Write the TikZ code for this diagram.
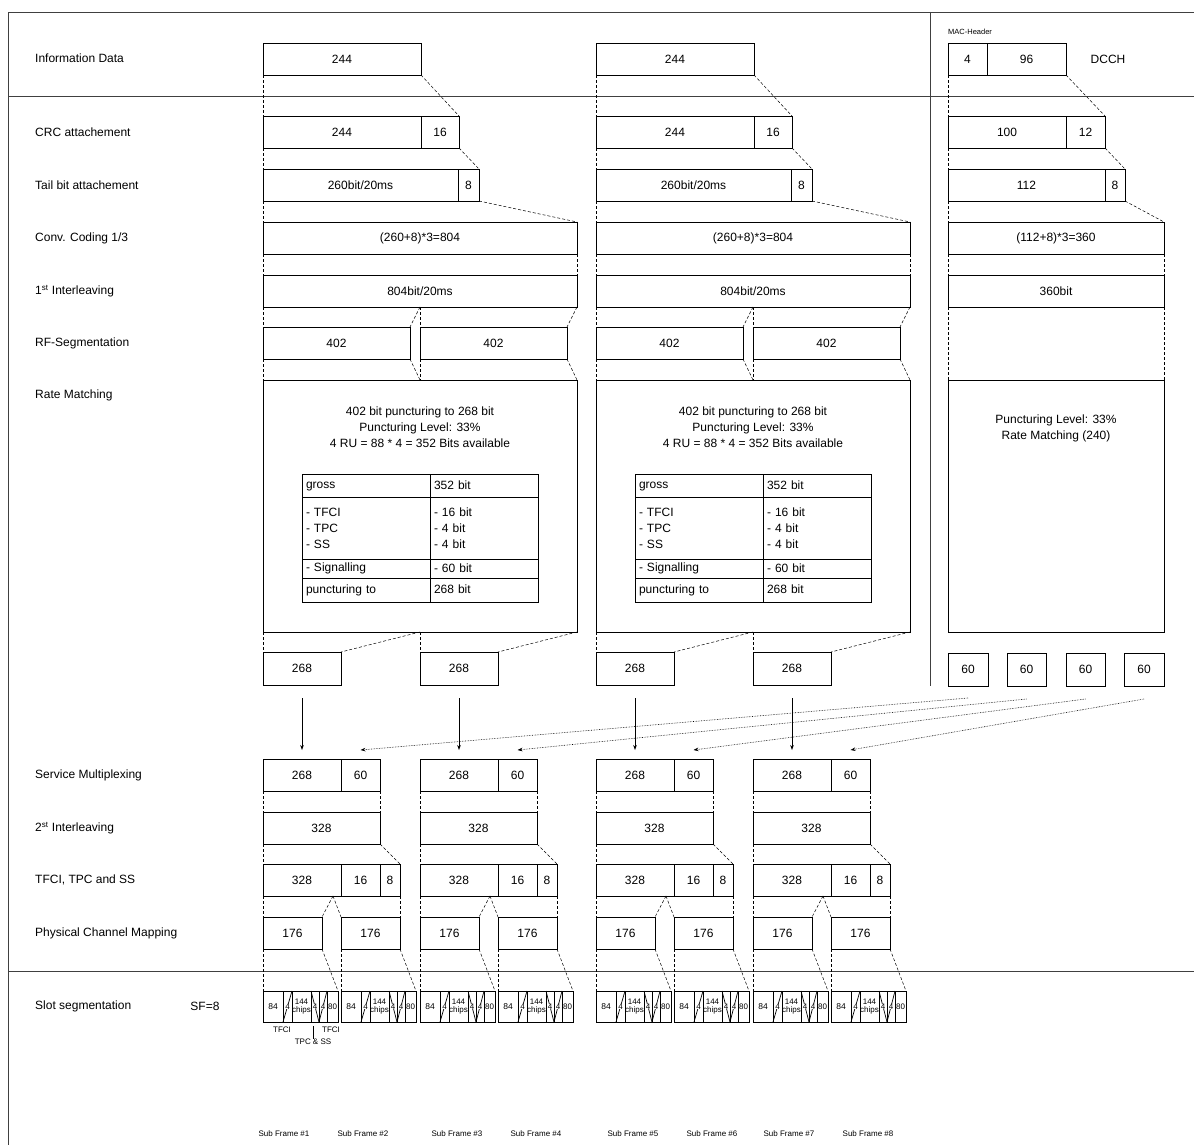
\documentclass[tikz,border=0pt]{standalone}
\usepackage{fontspec}
\setmainfont{Liberation Sans}
\usetikzlibrary{arrows.meta,calc}
\tikzset{
 cell/.style={draw, line width=0.9pt, inner sep=0pt, outer sep=0pt, align=center, font=\fontsize{12}{16}\selectfont},
 tcell/.style={cell, align=left},
 scell/.style={draw, line width=0.8pt, inner sep=0pt, outer sep=0pt, align=center, font=\fontsize{8}{7.5}\selectfont},
 conn/.style={line width=0.5pt, dash pattern=on 3pt off 2pt},
 frame/.style={line width=0.9pt, draw=black!75},
 lbl/.style={anchor=west, inner sep=0pt, font=\fontsize{12}{14}\selectfont},
 txt/.style={inner sep=0pt, align=center, font=\fontsize{12}{16}\selectfont},
 small/.style={inner sep=0pt, align=center, font=\fontsize{8}{9}\selectfont},
 four/.style={fill=white, inner sep=0.2pt, font=\fontsize{8}{8}\selectfont},
 arr/.style={line width=0.6pt, -{Stealth[length=5pt,width=3.6pt]}},
 darr/.style={line width=0.6pt, densely dotted, -{Stealth[length=5pt,width=3.6pt]}},
}
% box from (x1,y1) to (x2,y2), y counted downwards
\newcommand\bx[7][cell]{\node[#1, minimum width={((#5)-(#3))*1pt}, minimum height={((#6)-(#4))*1pt}] (#2) at ({((#3)+(#5))/2},{((#4)+(#6))/2}) {#7};}
\newcommand\tc[7]{\node[tcell, text width=#6, minimum width={((#4)-(#2))*1pt}, minimum height={((#5)-(#3))*1pt}] (#1) at ({((#2)+(#4))/2},{((#3)+(#5))/2}) {#7};}
\newcommand\onel[1]{\rule[-2pt]{0pt}{11pt}#1}
% one slot of 75 units starting at x = #2
\newcommand\slotbox[2]{%
 \bx[scell]{#1a}{#2}{991}{#2+20}{1022}{\fontsize{8.5}{8}\selectfont 84}
 \bx[scell]{#1b}{#2+20}{991}{#2+29}{1022}{}
 \bx[scell]{#1c}{#2+29}{991}{#2+48}{1022}{144\\chips}
 \bx[scell]{#1d}{#2+48}{991}{#2+56}{1022}{}
 \bx[scell]{#1e}{#2+56}{991}{#2+64}{1022}{}
 \bx[scell]{#1f}{#2+64}{991}{#2+75}{1022}{80}
 \draw[line width=0.7pt] (#1b.north east) -- (#1b.south west);
 \draw[line width=0.7pt] (#1d.north west) -- (#1d.south east);
 \draw[line width=0.7pt] (#1e.north east) -- (#1e.south west);
 \node[four] (#1bt) at (#1b) {4};
 \node[four] (#1dt) at (#1d) {4};
 \node[four] (#1et) at (#1e) {4};
}
% DTCH column (drawn at column 1 coordinates)
\newcommand\dtchcol[1]{%
 \bx{#1i}{263}{43}{421}{75}{244}
 \bx{#1c1}{263}{116}{421}{148}{244}
 \bx{#1c2}{421}{116}{459}{148}{16}
 \bx{#1t1}{263}{169}{458}{201}{260bit/20ms}
 \bx{#1t2}{458}{169}{479}{201}{8}
 \bx{#1cv}{263}{222}{577}{254}{(260+8)*3=804}
 \bx{#1il}{263}{275}{577}{307}{804bit/20ms}
 \bx{#1r1}{263}{327}{410}{359}{402}
 \bx{#1r2}{420}{327}{567}{359}{402}
 \bx{#1rm}{263}{380}{577}{632}{}
 \bx{#1p1}{263}{652}{341}{685}{268}
 \bx{#1p2}{420}{652}{498}{685}{268}
 \node[txt] (#1rmt) at (420,427) {402 bit puncturing to 268 bit\\Puncturing Level: 33\%\\4 RU = 88 * 4 = 352 Bits available};
 \tc{#1ta1}{302}{474}{430}{497}{120pt}{\onel{gross}}
 \tc{#1ta2}{430}{474}{538}{497}{100pt}{\onel{352 bit}}
 \tc{#1tb1}{302}{497}{430}{559}{120pt}{- TFCI\\- TPC\\- SS}
 \tc{#1tb2}{430}{497}{538}{559}{100pt}{- 16 bit\\- 4 bit\\- 4 bit}
 \tc{#1tc1}{302}{559}{430}{578}{120pt}{\onel{- Signalling}}
 \tc{#1tc2}{430}{559}{538}{578}{100pt}{\onel{- 60 bit}}
 \tc{#1td1}{302}{578}{430}{602}{120pt}{\onel{puncturing to}}
 \tc{#1td2}{430}{578}{538}{602}{100pt}{\onel{268 bit}}
 \draw[conn] (#1i.south west) -- (#1c1.north west);
 \draw[conn] (#1i.south east) -- (#1c2.north east);
 \draw[conn] (#1c1.south west) -- (#1t1.north west);
 \draw[conn] (#1c2.south east) -- (#1t2.north east);
 \draw[conn] (#1t1.south west) -- (#1cv.north west);
 \draw[conn] (#1t2.south east) -- (#1cv.north east);
 \draw[conn] (#1cv.south west) -- (#1il.north west);
 \draw[conn] (#1cv.south east) -- (#1il.north east);
 \draw[conn] (#1il.south west) -- (#1r1.north west);
 \draw[conn] (#1il.south) -- (#1r1.north east);
 \draw[conn] (#1il.south) -- (#1r2.north west);
 \draw[conn] (#1il.south east) -- (#1r2.north east);
 \draw[conn] (#1r1.south west) -- (#1rm.north west);
 \draw[conn] (#1r1.south east) -- (#1rm.north);
 \draw[conn] (#1r2.south west) -- (#1rm.north);
 \draw[conn] (#1r2.south east) -- (#1rm.north east);
 \draw[conn] (#1rm.south west) -- (#1p1.north west);
 \draw[conn] (#1rm.south) -- (#1p1.north east);
 \draw[conn] (#1rm.south) -- (#1p2.north west);
 \draw[conn] (#1rm.south east) -- (#1p2.north east);
}
% lower group (drawn at group 1 coordinates)
\newcommand\grp[1]{%
 \bx{#1m1}{263}{759}{341}{791}{268}
 \bx{#1m2}{341}{759}{380}{791}{60}
 \bx{#1n}{263}{812}{380}{844}{328}
 \bx{#1f1}{263}{864}{341}{896}{328}
 \bx{#1f2}{341}{864}{380}{896}{16}
 \bx{#1f3}{380}{864}{400}{896}{8}
 \bx{#1q1}{263}{917}{322}{949}{176}
 \bx{#1q2}{341}{917}{400}{949}{176}
 \slotbox{#1s}{263}
 \slotbox{#1t}{341}
 \coordinate (#1ap) at (333,896);
 \draw[conn] (#1m1.south west) -- (#1n.north west);
 \draw[conn] (#1m2.south east) -- (#1n.north east);
 \draw[conn] (#1n.south west) -- (#1f1.north west);
 \draw[conn] (#1n.south east) -- (#1f3.north east);
 \draw[conn] (#1f1.south west) -- (#1q1.north west);
 \draw[conn] (#1ap) -- (#1q1.north east);
 \draw[conn] (#1ap) -- (#1q2.north west);
 \draw[conn] (#1f3.south east) -- (#1q2.north east);
 \draw[conn] (#1q1.south west) -- (#1sa.north west);
 \draw[conn] (#1q1.south east) -- (#1sf.north east);
 \draw[conn] (#1q2.south west) -- (#1ta.north west);
 \draw[conn] (#1q2.south east) -- (#1tf.north east);
}
\begin{document}
\begin{tikzpicture}[x=1pt,y=-1pt]
\useasboundingbox (0,0) rectangle (1194,1145);
% frame
\draw[frame] (1194,12) -- (8,12) -- (8,1145);
\draw[frame] (8,96) -- (1194,96);
\draw[frame] (8,971) -- (1194,971);
\draw[frame] (930,12) -- (930,686);
% row labels
\node[lbl] (l1) at (35,58) {Information Data};
\node[lbl] (l2) at (35,132) {CRC attachement};
\node[lbl] (l3) at (35,185) {Tail bit attachement};
\node[lbl] (l4) at (35,238) {Conv. Coding 1/3};
\node[lbl] (l5) at (35,291) {1\textsuperscript{st} Interleaving};
\node[lbl] (l6) at (35,343) {RF-Segmentation};
\node[lbl] (l7) at (35,395) {Rate Matching};
\node[lbl] (l8) at (35,775) {Service Multiplexing};
\node[lbl] (l9) at (35,828) {2\textsuperscript{st} Interleaving};
\node[lbl] (l10) at (35,880) {TFCI, TPC and SS};
\node[lbl] (l11) at (35,933) {Physical Channel Mapping};
\node[lbl] (l12) at (35,1006) {Slot segmentation};
\node[txt] (sf8) at (205,1006) {SF=8};
% DTCH columns
\dtchcol{A}
\begin{scope}[xshift=333pt]\dtchcol{B}\end{scope}
% DCCH column
\node[small, anchor=west, font=\fontsize{7.5}{8}\selectfont] (mach) at (948,32) {MAC-Header};
\bx{dm1}{948}{43}{987}{75}{4}
\bx{dm2}{987}{43}{1066}{75}{96}
\node[txt] (dcch) at (1108,59) {DCCH};
\bx{dc1}{948}{116}{1066}{148}{100}
\bx{dc2}{1066}{116}{1105}{148}{12}
\bx{dt1}{948}{169}{1105}{201}{112}
\bx{dt2}{1105}{169}{1125}{201}{8}
\bx{dcv}{948}{222}{1164}{254}{(112+8)*3=360}
\bx{dil}{948}{275}{1164}{307}{360bit}
\bx{drm}{948}{380}{1164}{632}{}
\node[txt] (drmt) at (1056,428) {Puncturing Level: 33\%\\Rate Matching (240)};
\bx{s1}{948}{653}{988}{686}{60}
\bx{s2}{1007}{653}{1046}{686}{60}
\bx{s3}{1066}{653}{1105}{686}{60}
\bx{s4}{1124}{653}{1164}{686}{60}
\draw[conn] (dm1.south west) -- (dc1.north west);
\draw[conn] (dm2.south east) -- (dc2.north east);
\draw[conn] (dc1.south west) -- (dt1.north west);
\draw[conn] (dc2.south east) -- (dt2.north east);
\draw[conn] (dt1.south west) -- (dcv.north west);
\draw[conn] (dt2.south east) -- (dcv.north east);
\draw[conn] (dcv.south west) -- (dil.north west);
\draw[conn] (dcv.south east) -- (dil.north east);
\draw[conn] (dil.south west) -- (drm.north west);
\draw[conn] (dil.south east) -- (drm.north east);
% lower groups
\grp{G}
\begin{scope}[xshift=157pt]\grp{H}\end{scope}
\begin{scope}[xshift=333pt]\grp{J}\end{scope}
\begin{scope}[xshift=490pt]\grp{K}\end{scope}
% arrows
\draw[arr, shorten <=13pt, shorten >=9pt] (Ap1.south) -- (Gm1.north);
\draw[arr, shorten <=13pt, shorten >=9pt] (Ap2.south) -- (Hm1.north);
\draw[arr, shorten <=13pt, shorten >=9pt] (Bp1.south) -- (Jm1.north);
\draw[arr, shorten <=13pt, shorten >=9pt] (Bp2.south) -- (Km1.north);
\coordinate (s1o) at ([yshift=-12pt]s1.south);
\coordinate (s2o) at ([yshift=-13pt]s2.south);
\coordinate (s3o) at ([yshift=-13pt]s3.south);
\coordinate (s4o) at ([yshift=-13pt]s4.south);
\coordinate (e1) at ([yshift=9pt]Gm2.north);
\coordinate (e2) at ([yshift=9pt]Hm2.north);
\coordinate (e3) at ([yshift=9pt]Jm2.north);
\coordinate (e4) at ([yshift=9pt]Km2.north);
\draw[darr] (s1o) -- (e1);
\draw[darr] (s2o) -- (e2);
\draw[darr] (s3o) -- (e3);
\draw[darr] (s4o) -- (e4);
% slot annotations
\node[small] (tf1) at (282,1030) {TFCI};
\node[small] (tf2) at (331,1030) {TFCI};
\node[small] (tpc) at (313,1042) {TPC \& SS};
\coordinate (tk) at (313,1026);
\draw[line width=0.5pt] (tk) -- (tpc.north);
% sub frame labels
\node[small] (f1) at (284,1134) {Sub Frame \#1};
\node[small] (f2) at (363,1134) {Sub Frame \#2};
\node[small] (f3) at (457,1134) {Sub Frame \#3};
\node[small] (f4) at (536,1134) {Sub Frame \#4};
\node[small] (f5) at (633,1134) {Sub Frame \#5};
\node[small] (f6) at (712,1134) {Sub Frame \#6};
\node[small] (f7) at (789,1134) {Sub Frame \#7};
\node[small] (f8) at (868,1134) {Sub Frame \#8};
\end{tikzpicture}
\end{document}
